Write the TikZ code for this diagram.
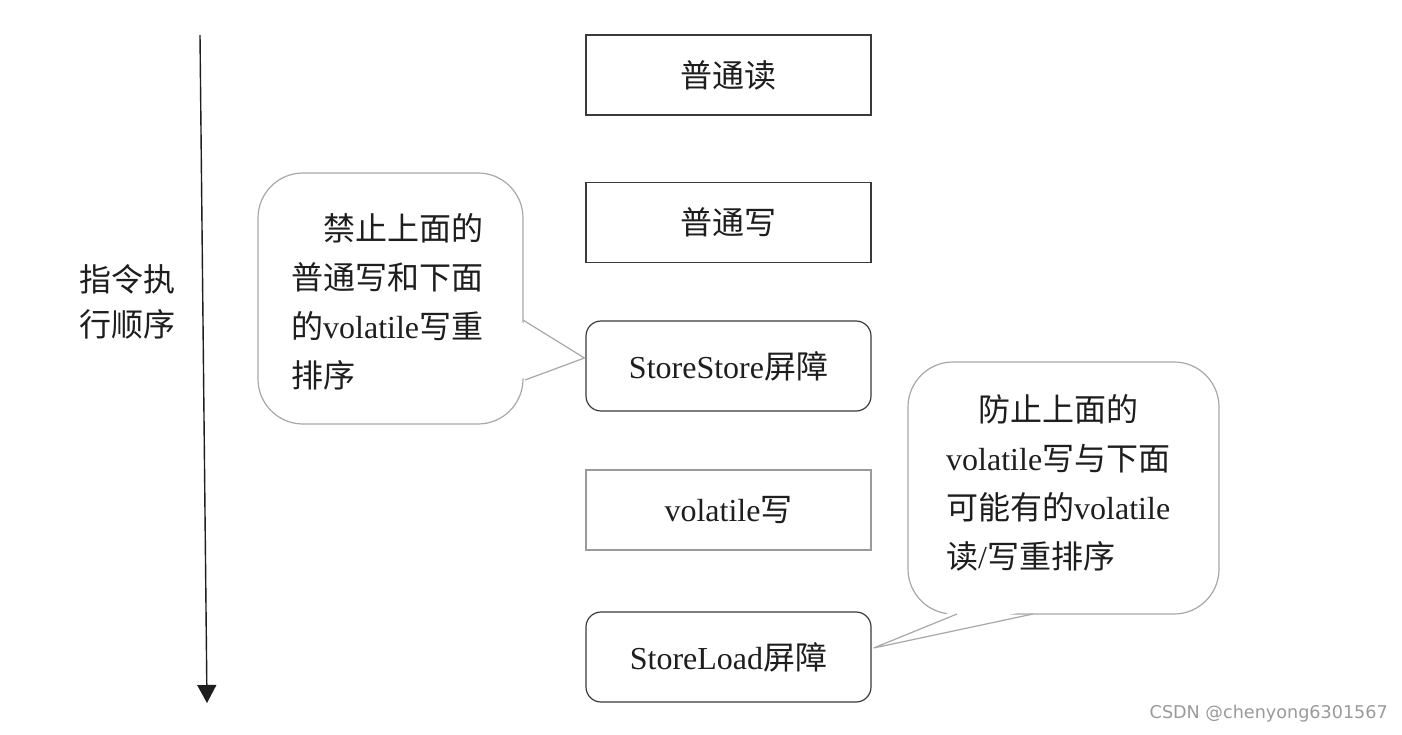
\documentclass[tikz,border=0pt]{standalone}
\usepackage{fontspec}
\setmainfont{Liberation Serif}
\newfontfamily\cjk{Noto Sans CJK SC}
\newfontfamily\wmfont{DejaVu Sans}
\usetikzlibrary{arrows.meta,calc}
\newcommand\zh[1]{{\cjk #1}}
\definecolor{boxdark}{HTML}{3A3A3A}
\definecolor{boxlight}{HTML}{9A9A9A}
\definecolor{bubble}{HTML}{A8A8A8}
\definecolor{txt}{HTML}{1E1E1E}
\begin{document}
\begin{tikzpicture}[x=1pt,y=-1pt,
  every node/.style={text=txt},
  bigfont/.style={font=\fontsize{32pt}{49pt}\selectfont},
  plainbox/.style={draw=boxdark,line width=1.2pt,minimum width=285pt,minimum height=80pt,inner sep=0pt,bigfont},
  lightbox/.style={plainbox,draw=boxlight},
  barrierbox/.style={plainbox,rounded corners=15pt,minimum height=90pt},
  bubbleshape/.style={draw=bubble,line width=1.2pt,fill=white,rounded corners=45pt},
  bubbletext/.style={bigfont,align=left,inner sep=0pt,anchor=west},
  pointerline/.style={draw=bubble,line width=1.2pt},
  watermark/.style={font=\wmfont\fontsize{17.6pt}{20pt}\selectfont,text=boxlight,anchor=east,inner sep=0pt}
]
\useasboundingbox (0,0) rectangle (1402,734);
\fill[white] (0,0) rectangle (1402,734);

% time arrow
\coordinate (atop) at (200,35);
\coordinate (abot) at (207,703);
\draw[line width=1.4pt,draw=txt,-{Triangle[width=19pt,length=18pt]}] (atop) -- (abot);
\node[bigfont,align=center,inner sep=0pt,font=\fontsize{32pt}{45pt}\selectfont\cjk] (order) at (127,302) {指令执\\行顺序};

% instruction boxes
\node[plainbox] (nr) at (728.5,75) {\zh{普通读}};
\node[plainbox] (nw) at (728.5,222.5) {\zh{普通写}};
\node[barrierbox] (ss) at (728.5,366) {StoreStore\zh{屏障}};
\node[lightbox] (vw) at (728.5,510) {volatile\zh{写}};
\node[barrierbox] (sl) at (728.5,657) {StoreLoad\zh{屏障}};

% left callout
\draw[bubbleshape] (258,173) rectangle (523,424);
\coordinate (lp1) at (523,320);
\coordinate (lp2) at (525,380);
\coordinate (ltip) at ($(ss.west)+(-1,-8)$);
\fill[white] (518,320) -- (ltip) -- (518,380) -- cycle;
\draw[pointerline] (lp1) -- (ltip) -- (lp2);
\node[bubbletext] (ltext) at (291,301.5) {\hspace*{1em}\zh{禁止上面的}\\\zh{普通写和下面}\\\zh{的}volatile\zh{写重}\\\zh{排序}};

% right callout
\draw[bubbleshape] (908,362) rectangle (1219,614);
\coordinate (rp1) at (957,614);
\coordinate (rp2) at (1033,614);
\coordinate (rtip) at ($(sl.east)+(2,-9)$);
\fill[white] (957,609) -- (rtip) -- (1033,609) -- cycle;
\draw[pointerline] (rp1) -- (rtip) -- (rp2);
\node[bubbletext] (rtext) at (946,483) {\hspace*{1em}\zh{防止上面的}\\volatile\zh{写与下面}\\\zh{可能有的}volatile\\\zh{读}/\zh{写重排序}};

\node[watermark] (wm) at (1388,714) {CSDN @chenyong6301567};
\end{tikzpicture}
\end{document}
